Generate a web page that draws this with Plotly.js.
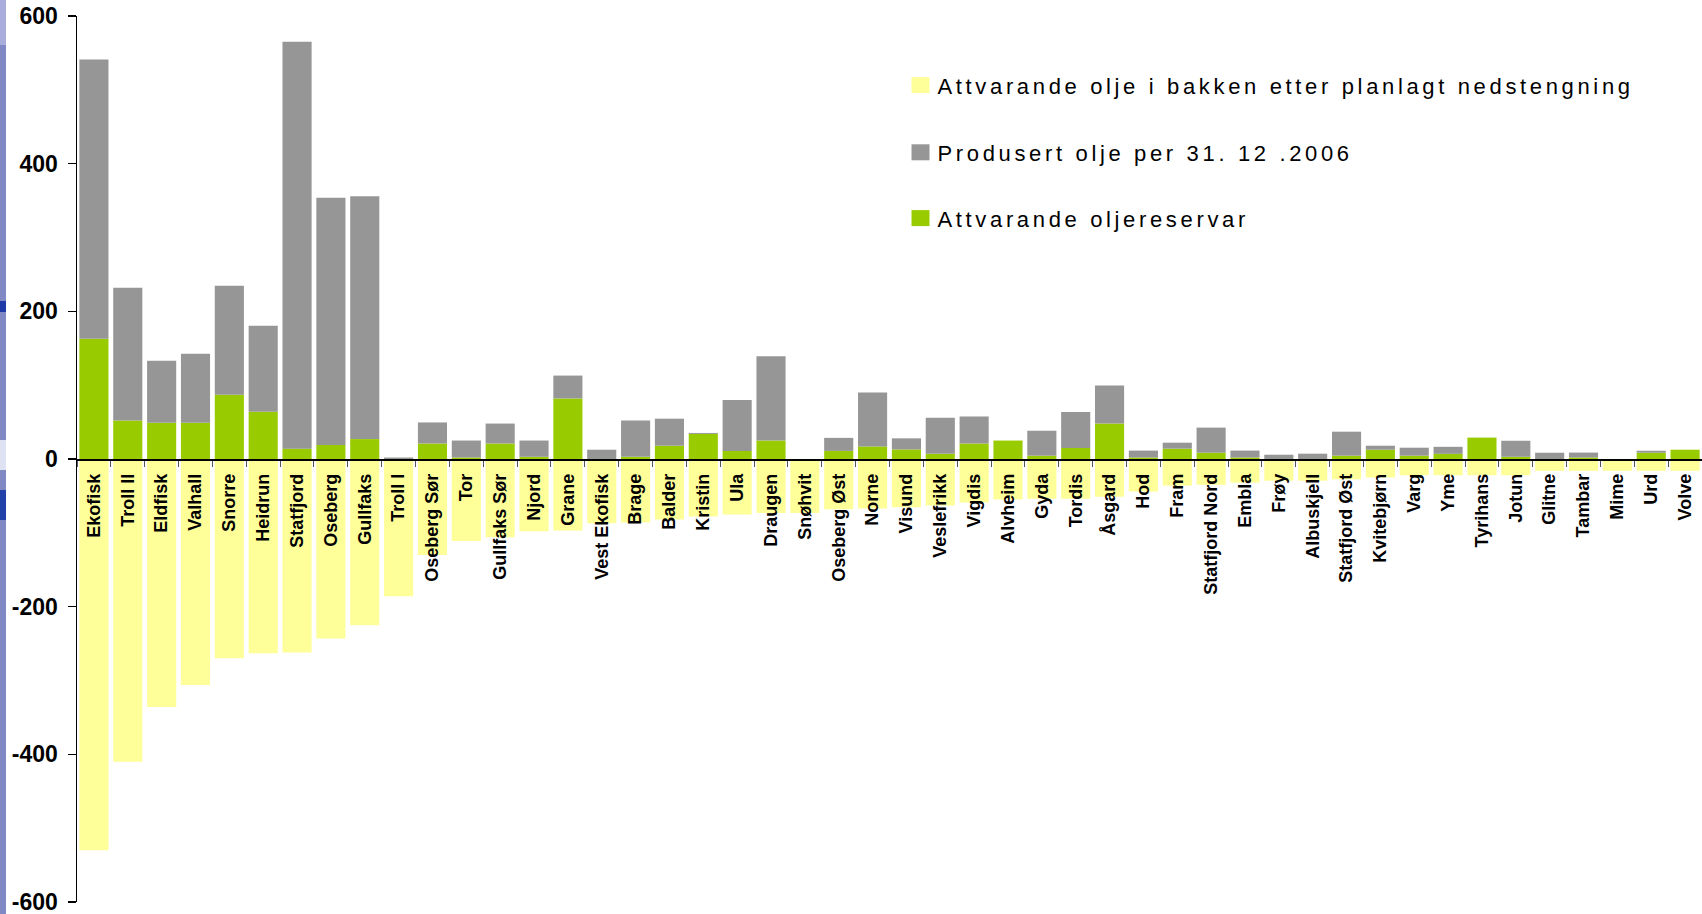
<!DOCTYPE html>
<html>
<head>
<meta charset="utf-8">
<script src="https://cdn.plot.ly/plotly-3.0.1.min.js"></script>
<style>
html,body{margin:0;padding:0;background:#fff;}
#chart{width:1702px;height:914px;}
</style>
</head>
<body>
<div id="chart"></div>
<script>
var categories = ['Ekofisk','Troll II','Eldfisk','Valhall','Snorre','Heidrun','Statfjord','Oseberg','Gullfaks','Troll I','Oseberg Sør','Tor','Gullfaks Sør','Njord','Grane','Vest Ekofisk','Brage','Balder','Kristin','Ula','Draugen','Snøhvit','Oseberg Øst','Norne','Visund','Veslefrikk','Vigdis','Alvheim','Gyda','Tordis','Åsgard','Hod','Fram','Statfjord Nord','Embla','Frøy','Albuskjell','Statfjord Øst','Kvitebjørn','Varg','Yme','Tyrihans','Jotun','Glitne','Tambar','Mime','Urd','Volve'];

// Attvarande oljereservar (green)
var reserves = [163, 52, 49, 49, 87, 64, 14, 19, 27, 0, 21, 2, 21, 3, 82, 0, 3, 18, 34, 11, 25, 0, 11, 17, 13, 7, 21, 25, 4.5, 15, 48, 2, 14, 8.5, 2, 0, 0, 4.5, 12.6, 4.5, 7, 29, 3, 0, 2, 0, 8.5, 12.6];

// Produsert olje per 31.12.2006 (grey)
var produced = [378, 180, 84, 93.5, 147.5, 116.5, 551, 335, 329, 2, 28.5, 23, 27, 22, 31, 12.6, 49, 36.6, 1.3, 69, 114, 0, 17.6, 73, 15, 48.7, 36.6, 0, 33.8, 48.7, 51.5, 9.4, 8.1, 34, 9.4, 5.8, 7.2, 32.5, 5.4, 10.8, 9.5, 0, 21.7, 8.5, 6.7, 0, 2.7, 0];

// Attvarande olje i bakken etter planlagt nedstengning (yellow, negative)
var remaining = [-530, -410, -336, -306, -270, -263, -262, -243, -225, -186, -130, -111, -106, -98, -97, -87, -86, -82, -78, -75, -73, -73, -68, -67, -65.5, -63, -59, -55, -54, -54, -51, -44, -36, -35, -32, -29.4, -29.4, -27.5, -25, -22, -22, -22, -22, -16, -16, -16, -16, -16];

var yTicks = [-600, -400, -200, 0, 200, 400, 600];

var fontFam = 'Liberation Sans, Arial, Helvetica, sans-serif';

var traces = [
  {type:'bar', x:categories, y:reserves, name:'Attvarande oljereservar',
   marker:{color:'#99CC00', line:{width:0}}, legend:'legend3', hoverinfo:'skip'},
  {type:'bar', x:categories, y:produced, name:'Produsert olje per 31. 12 .2006',
   marker:{color:'#969696', line:{width:0}}, legend:'legend2', hoverinfo:'skip'},
  {type:'bar', x:categories, y:remaining, name:'Attvarande olje i bakken etter planlagt nedstengning',
   marker:{color:'#FFFF99', line:{width:0}}, legend:'legend', hoverinfo:'skip'}
];

var plotW = 1625, plotH = 886, mL = 77, mT = 16;
function px2x(p){ return (p - mL) / plotW; }
function px2y(p){ return (mT + plotH - p) / plotH; }

var legendBase = {
  bgcolor:'rgba(0,0,0,0)', borderwidth:0,
  font:{family:fontFam, size:22, color:'#000'},
  xanchor:'left', yanchor:'middle', x:px2x(897.5)
};

var layout = {
  width:1702, height:914,
  margin:{l:mL, r:0, t:mT, b:12, pad:0},
  paper_bgcolor:'#fff', plot_bgcolor:'rgba(0,0,0,0)',
  barmode:'relative', bargap:0.14,
  showlegend:true,
  legend: Object.assign({}, legendBase, {y:px2y(85.3)}),
  legend2: Object.assign({}, legendBase, {y:px2y(152.5)}),
  legend3: Object.assign({}, legendBase, {y:px2y(218.3)}),
  xaxis:{
    type:'category', anchor:'free', position:0.5,
    showline:true, linecolor:'#000', linewidth:1.5,
    ticks:'outside', tickson:'boundaries', ticklen:6, tickcolor:'#555', tickwidth:1,
    tickangle:-90, showgrid:false, zeroline:false,
    tickfont:{family:fontFam, size:18, color:'#000', weight:'bold'},
    ticklabelstandoff:6,
    fixedrange:true
  },
  yaxis:{
    range:[-600, 600], tickvals:yTicks, ticktext:yTicks.map(String),
    showline:true, linecolor:'#000', linewidth:1.5,
    ticks:'outside', ticklen:8, tickcolor:'#000', tickwidth:1.5,
    showgrid:false, zeroline:false,
    tickfont:{family:fontFam, size:23, color:'#000', weight:'bold'},
    ticklabelstandoff:5, ticklabeloverflow:'allow',
    fixedrange:true
  },
  shapes:[
    {type:'rect', xref:'paper', yref:'paper', x0:px2x(0), x1:px2x(6), y0:px2y(914), y1:px2y(0),
     fillcolor:'#8189c4', line:{width:0}, layer:'below'},
    {type:'rect', xref:'paper', yref:'paper', x0:px2x(0), x1:px2x(6), y0:px2y(45), y1:px2y(0),
     fillcolor:'#a9addb', line:{width:0}, layer:'below'},
    {type:'rect', xref:'paper', yref:'paper', x0:px2x(0), x1:px2x(6), y0:px2y(312), y1:px2y(301),
     fillcolor:'#1d3aa6', line:{width:0}, layer:'below'},
    {type:'rect', xref:'paper', yref:'paper', x0:px2x(0), x1:px2x(6), y0:px2y(520), y1:px2y(490),
     fillcolor:'#2140a8', line:{width:0}, layer:'below'},
    {type:'rect', xref:'paper', yref:'paper', x0:px2x(0), x1:px2x(6), y0:px2y(470), y1:px2y(440),
     fillcolor:'#dfe2f2', line:{width:0}, layer:'below'}
  ]
};

function tweakLegend(){
  var root = document.getElementById('chart');
  root.querySelectorAll('.legendpoints path').forEach(function(p){
    p.setAttribute('d', 'M12,8H-6V-8H12Z');
  });
  root.querySelectorAll('.infolayer text').forEach(function(t){
    t.setAttribute('letter-spacing', '3.65');
    t.style.setProperty('letter-spacing', '3.65px', 'important');
  });
  root.querySelectorAll('.infolayer [clip-path]').forEach(function(e){
    e.removeAttribute('clip-path');
  });
}

Plotly.newPlot('chart', traces, layout, {displayModeBar:false, staticPlot:true}).then(function(){
  tweakLegend();
  setTimeout(tweakLegend, 50);
  setTimeout(tweakLegend, 300);
});
</script>
</body>
</html>
